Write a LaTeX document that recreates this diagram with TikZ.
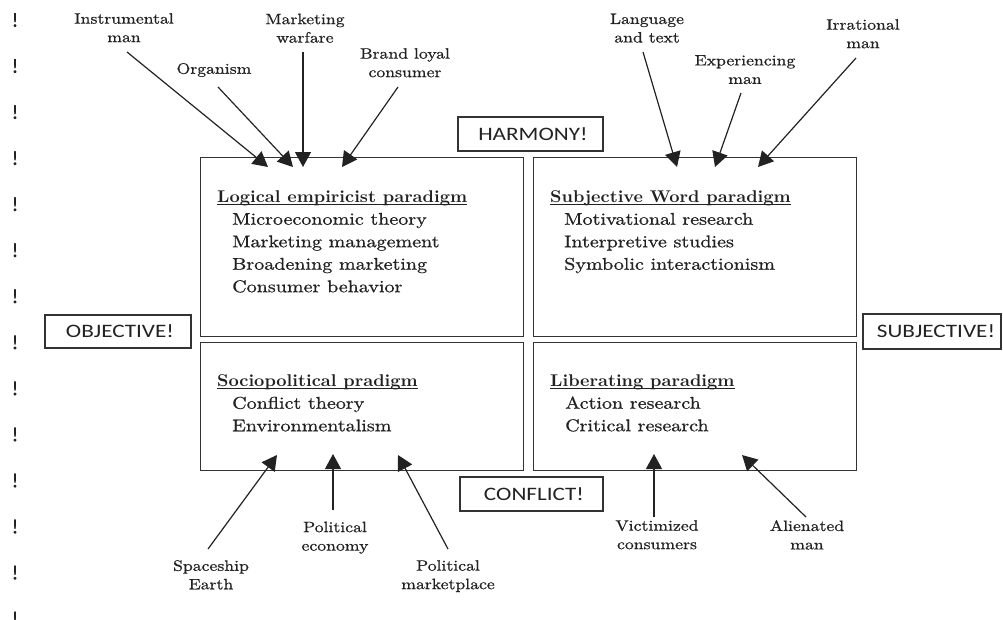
\documentclass[tikz,border=0pt]{standalone}
\usepackage{fontspec}
\usetikzlibrary{arrows.meta}

% Fonts: a widened Latin Modern for the body text, Carlito for the tag boxes
\newfontfamily\bodyrm{lmroman10-regular.otf}[FakeStretch=1.18, FakeBold=0.8]
\newfontfamily\headrm{lmroman10-bold.otf}[FakeStretch=1.05]
\newfontfamily\tagsf{Carlito}[FakeStretch=1.22]
\newfontfamily\bangsf{Carlito}[FakeBold=1.2]

\definecolor{ink}{HTML}{222222}
\definecolor{frame}{HTML}{333333}

% underline that sits just under the baseline
\newcommand\hdul[1]{\setbox0\hbox{#1}\rlap{\rule[-2.9pt]{\wd0}{1.1pt}}\box0}

\begin{document}
\begin{tikzpicture}[x=1pt,y=-1pt,
  paradigm/.style={draw=frame, line width=1.2pt, inner sep=0pt, anchor=north west},
  tagbox/.style={draw=frame, line width=1.1pt, inner sep=0pt, text=ink,
    font=\tagsf\fontsize{19}{22}\selectfont},
  boxtext/.style={anchor=north west, inner sep=0pt, align=left, text=ink,
    font=\bodyrm\fontsize{17}{22.5}\selectfont},
  lbl/.style={anchor=north, inner sep=0pt, align=center, text=ink,
    font=\bodyrm\fontsize{15}{18.5}\selectfont},
  arr/.style={draw=ink, line width=1.2pt, -{Triangle[length=15pt,width=16pt]}},
  bang/.style={inner sep=0pt, text=ink, font=\bangsf\fontsize{20}{20}\selectfont}
]
\useasboundingbox (0,0) rectangle (1003,619);

% column of exclamation marks at the left margin
\foreach \k in {0,...,13}
  \node[bang] (bang\k) at (15,{20+46.05*\k}) {!};

% the four paradigm boxes
\node[paradigm, minimum width=323pt, minimum height=179pt] (le) at (200,157) {};
\node[paradigm, minimum width=323pt, minimum height=179pt] (sw) at (533,157) {};
\node[paradigm, minimum width=323pt, minimum height=128pt] (sp) at (200,342) {};
\node[paradigm, minimum width=323pt, minimum height=128pt] (lp) at (533,342) {};

% contents of the boxes
\node[boxtext] (leText) at (217,190.2) {%
  \hdul{\headrm Logical empiricist paradigm}\\
  \hspace*{15pt}Microeconomic theory\\
  \hspace*{15pt}Marketing management\\
  \hspace*{15pt}Broadening marketing\\
  \hspace*{15pt}Consumer behavior};
\node[boxtext] (swText) at (550,190.2) {%
  \hdul{\headrm Subjective Word paradigm}\\
  \hspace*{14pt}Motivational research\\
  \hspace*{14pt}Interpretive studies\\
  \hspace*{14pt}Symbolic interactionism};
\node[boxtext] (spText) at (217,374.2) {%
  \hdul{\headrm Sociopolitical pradigm}\\
  \hspace*{15pt}Conflict theory\\
  \hspace*{15pt}Environmentalism};
\node[boxtext] (lpText) at (550,374.2) {%
  \hdul{\headrm Liberating paradigm}\\
  \hspace*{15pt}Action research\\
  \hspace*{15pt}Critical research};

% axis tags
\node[tagbox, minimum width=145pt, minimum height=34pt] (harmony)    at (530.5,134) {\hspace*{5pt}HARMONY!};
\node[tagbox, minimum width=143pt, minimum height=34pt] (conflict)   at (531.5,494) {\hspace*{5pt}CONFLICT!};
\node[tagbox, minimum width=146pt, minimum height=33pt] (objective)  at (118,331.5) {\hspace*{4pt}OBJECTIVE!};
\node[tagbox, minimum width=138pt, minimum height=35pt] (subjective) at (932,331.5) {\hspace*{8pt}SUBJECTIVE!};

% metaphors pointing into the boxes
\node[lbl] (instr) at (124,13)   {Instrumental\\man};
\node[lbl] (org)   at (214,63)   {Organism};
\node[lbl] (warf)  at (305,13.5) {Marketing\\warfare};
\node[lbl] (brand) at (405,48)   {Brand loyal\\consumer};
\node[lbl] (lang)  at (647,13.5) {Language\\and text};
\node[lbl] (exper) at (745,55)   {Experiencing\\man};
\node[lbl] (irr)   at (863,19)   {Irrational\\man};
\node[lbl] (space) at (211,560)  {Spaceship\\Earth};
\node[lbl] (peco)  at (335,521.5){Political\\economy};
\node[lbl] (pmkt)  at (448,560)  {Political\\marketplace};
\node[lbl] (vict)  at (657,520)  {Victimized\\consumers};
\node[lbl] (alien) at (807,520)  {Alienated\\man};

% arrow ends
\coordinate (instrA) at (127,52);  \coordinate (instrB) at (268,167);
\coordinate (orgA)   at (218,87);  \coordinate (orgB)   at (293,167);
\coordinate (warfA)  at (303,52);  \coordinate (warfB)  at (303,167);
\coordinate (brandA) at (398,87);  \coordinate (brandB) at (342,167);
\coordinate (langA)  at (643,52);  \coordinate (langB)  at (677,167);
\coordinate (experA) at (741,93);  \coordinate (experB) at (715,167);
\coordinate (irrA)   at (856,58);  \coordinate (irrB)   at (758,167);
\coordinate (spaceA) at (208,549); \coordinate (spaceB) at (277,455);
\coordinate (pecoA)  at (333,510); \coordinate (pecoB)  at (333,454);
\coordinate (pmktA)  at (448,549); \coordinate (pmktB)  at (398,455);
\coordinate (victA)  at (654,517); \coordinate (victB)  at (654,454);
\coordinate (alienA) at (806,517); \coordinate (alienB) at (742,455);

\foreach \n in {instr,org,warf,brand,lang,exper,irr,space,peco,pmkt,vict,alien}
  \draw[arr] (\n A) -- (\n B);
\end{tikzpicture}
\end{document}
